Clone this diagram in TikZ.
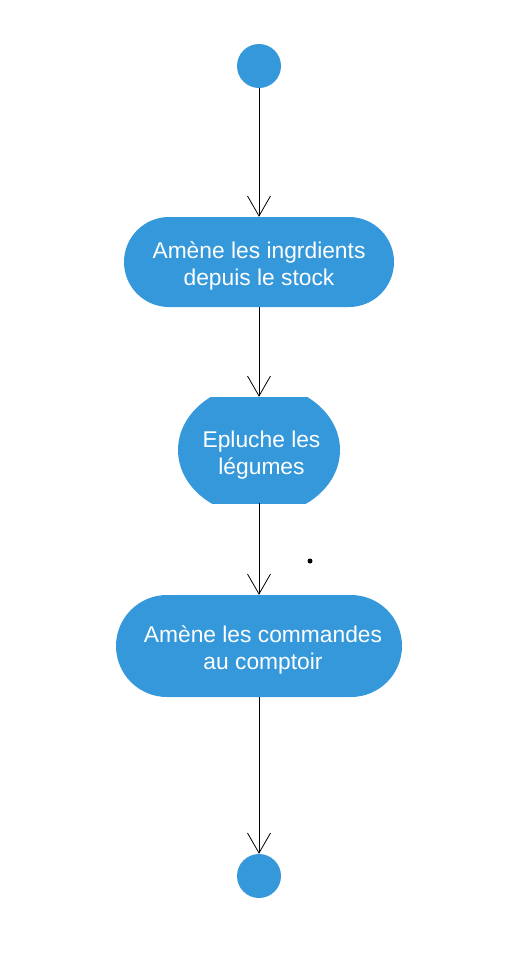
\documentclass[tikz,border=0pt]{standalone}
\usepackage{fontspec}
\setmainfont{Liberation Sans}
\usetikzlibrary{arrows.meta}
\definecolor{actblue}{RGB}{52,152,219}

\begin{document}
\begin{tikzpicture}[x=1pt,y=-1pt,
    state/.style={circle, fill=actblue, minimum size=44pt, inner sep=0pt},
    action/.style={fill=actblue, inner sep=0pt},
    caption/.style={text=white, align=center, inner sep=0pt,
      font=\fontsize{22.8}{27}\selectfont},
    flow/.style={-{Straight Barb[length=20pt,width=23pt]}, line width=0.8pt}]
    \useasboundingbox (0,0) rectangle (526,970);
    \node [state] (start) at (259,66) {};
    \node [action, rounded corners=45pt, minimum width=270pt, minimum height=90pt,
      label={[caption, name=ingrtext, yshift=-4pt]center:{Amène les ingrdients\\depuis le stock}}]
      (ingr) at (259,262) {};
    \node [action, fill=none, minimum width=162pt, minimum height=106pt,
      path picture={\fill [actblue] (path picture bounding box.center) ellipse (81pt and 66pt);},
      label={[caption, name=epltext, xshift=2.5pt, yshift=-5pt]center:{Epluche les\\légumes}}]
      (epl) at (259,450) {};
    \node [action, rounded corners=51pt, minimum width=286pt, minimum height=102pt,
      label={[caption, name=commtext, xshift=4pt, yshift=-4pt]center:{Amène les commandes\\au comptoir}}]
      (comm) at (259,646) {};
    \node [state] (stop) at (259,876) {};
    \draw [flow] (start) -- (ingr);
    \draw [flow] (ingr) -- (epl);
    \draw [flow] (epl) -- (comm);
    \draw [flow] (comm) -- (stop);
    \fill (310,561) circle (2.5pt);
\end{tikzpicture}
\end{document}
